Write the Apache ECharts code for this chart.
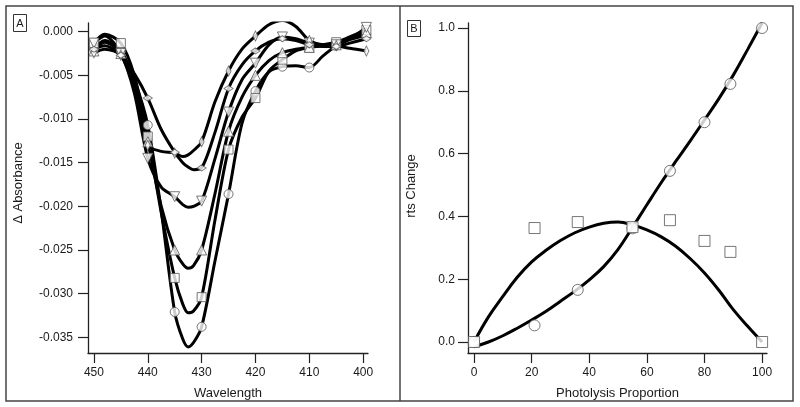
<!DOCTYPE html>
<html>
<head>
<meta charset="utf-8">
<script src="https://cdn.jsdelivr.net/npm/echarts@6/dist/echarts.min.js"></script>
<style>
html,body{margin:0;padding:0;background:#fff;}
#chart{width:800px;height:407px;}
</style>
</head>
<body>
<div id="chart"></div>
<script>
// ---------- Panel A data ----------
const wavelengths = [450, 448, 445, 442.5, 440, 437.5, 435, 433.5, 432.5, 431.5, 430, 427.5, 425, 422.5, 420, 417.5, 415, 412.5, 410, 407.5, 405, 402.5, 399.4];
const markerWavelengths = [450, 445, 440, 435, 430, 425, 420, 415, 410, 405, 399.4];
const curveCircle   = [-0.0020, -0.0010, -0.0022, -0.0055, -0.0107, -0.0205, -0.0321, -0.0352, -0.0361, -0.0356, -0.0338, -0.0262, -0.0186, -0.0105, -0.0068, -0.0046, -0.0040, -0.0039, -0.0041, -0.0028, -0.0016, -0.0009, -0.0004];
const curveSquare   = [-0.0013, -0.0003, -0.0013, -0.0050, -0.0120, -0.0207, -0.0282, -0.0312, -0.0322, -0.0320, -0.0304, -0.0215, -0.0135, -0.0098, -0.0076, -0.0045, -0.0032, -0.0022, -0.0018, -0.0015, -0.0012, -0.0006, 0.0002];
const curveTriUp    = [-0.0022, -0.0012, -0.0025, -0.0060, -0.0126, -0.0200, -0.0250, -0.0266, -0.0271, -0.0268, -0.0250, -0.0185, -0.0114, -0.0075, -0.0050, -0.0033, -0.0024, -0.0020, -0.0018, -0.0016, -0.0015, -0.0008, -0.0001];
const curveTriDown  = [-0.0013, -0.0005, -0.0025, -0.0070, -0.0145, -0.0178, -0.0189, -0.0198, -0.0201, -0.0200, -0.0194, -0.0145, -0.0092, -0.0055, -0.0036, -0.0015, -0.0006, -0.0008, -0.0013, -0.0015, -0.0015, -0.0008, 0.0005];
const curveDiamondV = [-0.0024, -0.0020, -0.0027, -0.0065, -0.0130, -0.0137, -0.0139, -0.0143, -0.0141, -0.0136, -0.0126, -0.0080, -0.0045, -0.0020, -0.0005, 0.0008, 0.0013, 0.0006, -0.0010, -0.0015, -0.0016, -0.0019, -0.0022];
const curveDiamondH = [-0.0020, -0.0016, -0.0027, -0.0048, -0.0076, -0.0112, -0.0138, -0.0150, -0.0155, -0.0158, -0.0156, -0.0115, -0.0065, -0.0038, -0.0022, -0.0012, -0.0008, -0.0010, -0.0015, -0.0017, -0.0017, -0.0013, -0.0008];
const xTicksA = [400, 410, 420, 430, 440, 450];
const yTicksA = [0, -0.005, -0.010, -0.015, -0.020, -0.025, -0.030, -0.035];

// ---------- Panel B data ----------
const proportion = [0, 21, 36, 55, 68, 80, 89, 100];
const circleValues = [0, 0.053, 0.166, 0.362, 0.545, 0.700, 0.822, 1.000];
const squareValues = [0, 0.363, 0.382, 0.366, 0.388, 0.322, 0.287, 0];
const fitProportion = [0, 5, 10, 15, 20, 25, 30, 35, 40, 45, 50, 55, 60, 65, 70, 75, 80, 85, 90, 95, 100];
const fitCircle = [-0.015, 0.000, 0.020, 0.044, 0.070, 0.098, 0.130, 0.162, 0.198, 0.240, 0.295, 0.365, 0.437, 0.508, 0.575, 0.640, 0.707, 0.775, 0.850, 0.932, 1.016];
const fitSquare = [0.000, 0.080, 0.145, 0.206, 0.255, 0.292, 0.323, 0.348, 0.366, 0.378, 0.382, 0.373, 0.357, 0.335, 0.305, 0.266, 0.220, 0.165, 0.103, 0.050, 0.000];
const xTicksB = [0, 20, 40, 60, 80, 100];
const yTicksB = [0, 0.2, 0.4, 0.6, 0.8, 1.0];

const FONT = 'Liberation Sans, Arial, sans-serif';
const TXT = '#1a1a1a';

function pairs(xs, ys) { return xs.map((x, i) => [x, ys[i]]); }
function pickMarkers(ys) {
  const out = [];
  wavelengths.forEach((w, i) => { if (markerWavelengths.indexOf(w) >= 0) out.push([w, ys[i]]); });
  return out;
}

const markerStyle = { color: '#ffffff', borderColor: '#555555', borderWidth: 1 };

const curvesA = [
  { data: curveCircle, symbol: 'circle', size: 9, rot: 0 },
  { data: curveSquare, symbol: 'rect', size: 9, rot: 0 },
  { data: curveTriUp, symbol: 'triangle', size: 10, rot: 0 },
  { data: curveTriDown, symbol: 'triangle', size: 10, rot: 180 },
  { data: curveDiamondV, symbol: 'diamond', size: [5, 10], rot: 0 },
  { data: curveDiamondH, symbol: 'diamond', size: [9, 6], rot: 0 }
];

const series = [];
curvesA.forEach(c => {
  series.push({
    type: 'line', xAxisIndex: 0, yAxisIndex: 0,
    data: pairs(wavelengths, c.data), smooth: 0.3, showSymbol: false,
    lineStyle: { color: '#000', width: 3 }, silent: true, z: 2
  });
});
series.push({ type: 'line', xAxisIndex: 1, yAxisIndex: 1, data: pairs(fitProportion, fitCircle), smooth: 0.4, showSymbol: false, lineStyle: { color: '#000', width: 3 }, z: 2 });
series.push({ type: 'line', xAxisIndex: 1, yAxisIndex: 1, data: pairs(fitProportion, fitSquare), smooth: 0.4, showSymbol: false, lineStyle: { color: '#000', width: 3 }, z: 2 });
curvesA.forEach(c => {
  series.push({
    type: 'scatter', xAxisIndex: 0, yAxisIndex: 0,
    data: pickMarkers(c.data), symbol: c.symbol, symbolSize: c.size, symbolRotate: c.rot,
    itemStyle: markerStyle, z: 3
  });
});
series.push({ type: 'scatter', xAxisIndex: 1, yAxisIndex: 1, data: pairs(proportion, circleValues), symbol: 'circle', symbolSize: 11, itemStyle: markerStyle, z: 3 });
series.push({ type: 'scatter', xAxisIndex: 1, yAxisIndex: 1, data: pairs(proportion, squareValues), symbol: 'rect', symbolSize: 11, itemStyle: markerStyle, z: 4 });

function axisCommon(ticks, fmt, tickLen, margin) {
  return {
    axisLine: { show: true, onZero: false, lineStyle: { color: '#222', width: 1.3 } },
    axisTick: { show: true, inside: false, length: tickLen, customValues: ticks, lineStyle: { color: '#222', width: 1.2 } },
    axisLabel: { show: true, customValues: ticks, formatter: fmt, fontSize: 12, fontFamily: FONT, color: TXT, margin: margin },
    splitLine: { show: false }
  };
}

const option = {
  animation: false,
  backgroundColor: '#ffffff',
  grid: [
    { left: 88, top: 23, width: 280, height: 330 },
    { left: 468, top: 23, width: 299, height: 330 }
  ],
  xAxis: [
    Object.assign({ gridIndex: 0, type: 'value', inverse: true, min: 399.1, max: 451.1,
      name: 'Wavelength', nameLocation: 'middle', nameGap: 34,
      nameTextStyle: { fontSize: 13, fontFamily: FONT, color: TXT } },
      axisCommon(xTicksA, v => String(v), 10, 14)),
    Object.assign({ gridIndex: 1, type: 'value', min: -2.1, max: 101.7,
      name: 'Photolysis Proportion', nameLocation: 'middle', nameGap: 34,
      nameTextStyle: { fontSize: 13, fontFamily: FONT, color: TXT } },
      axisCommon(xTicksB, v => String(v), 10, 14))
  ],
  yAxis: [
    Object.assign({ gridIndex: 0, type: 'value', min: -0.0368, max: 0.001,
      name: 'Δ Absorbance', nameLocation: 'middle', nameGap: 63,
      nameTextStyle: { fontSize: 13, fontFamily: FONT, color: TXT, padding: [0, 0, 0, 10] } },
      axisCommon(yTicksA, v => v.toFixed(3), 10, 15)),
    Object.assign({ gridIndex: 1, type: 'value', min: -0.035, max: 1.016,
      name: 'rts Change', nameLocation: 'middle', nameGap: 50,
      nameTextStyle: { fontSize: 13, fontFamily: FONT, color: TXT, padding: [0, 0, 0, 4] } },
      axisCommon(yTicksB, v => v.toFixed(1), 10, 13))
  ],
  graphic: [
    { type: 'rect', shape: { x: 6, y: 6, width: 787, height: 395 }, style: { fill: 'none', stroke: '#444', lineWidth: 1.5 }, silent: true },
    { type: 'line', shape: { x1: 400, y1: 6, x2: 400, y2: 401 }, style: { stroke: '#444', lineWidth: 1.5 }, silent: true },
    { type: 'rect', shape: { x: 13.5, y: 14.5, width: 13, height: 17 }, style: { fill: '#fff', stroke: '#333', lineWidth: 1 } },
    { type: 'text', x: 20, y: 23.5, style: { text: 'A', fontSize: 11, fontFamily: FONT, fill: TXT, align: 'center', verticalAlign: 'middle' } },
    { type: 'rect', shape: { x: 407.5, y: 20.5, width: 13, height: 16 }, style: { fill: '#fff', stroke: '#333', lineWidth: 1 } },
    { type: 'text', x: 414, y: 29, style: { text: 'B', fontSize: 11, fontFamily: FONT, fill: TXT, align: 'center', verticalAlign: 'middle' } }
  ],
  series: series
};

const chart = echarts.init(document.getElementById('chart'), null, { renderer: 'canvas' });
chart.setOption(option);
</script>
</body>
</html>
